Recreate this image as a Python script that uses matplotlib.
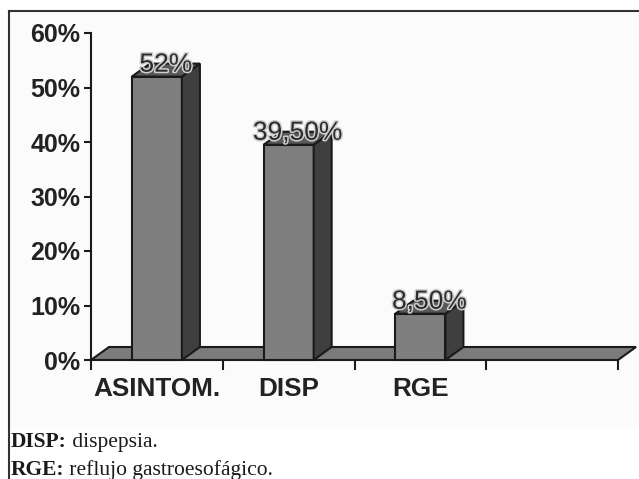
import matplotlib
matplotlib.use("Agg")
import matplotlib.pyplot as plt
import matplotlib.patheffects as pe
from matplotlib.patches import Polygon, Rectangle
from matplotlib.lines import Line2D

categorias = ["ASINTOM.", "DISP", "RGE", ""]
valores = [52.0, 39.5, 8.5]
etiquetas = ["52%", "39,50%", "8,50%"]
yticks = [0, 10, 20, 30, 40, 50, 60]
ytick_labels = ["0%", "10%", "20%", "30%", "40%", "50%", "60%"]
notas = [("DISP:", " dispepsia."), ("RGE:", " reflujo gastroesofágico.")]

W, H = 639, 479
fig = plt.figure(figsize=(W / 100, H / 100), dpi=100)
fig.patch.set_facecolor("white")

# marco y fondo del grafico
fig.patches.append(Rectangle((9 / W, 1 - 428 / H), (W - 9) / W, (428 - 11) / H,
                             transform=fig.transFigure, facecolor="#fbfbfb",
                             edgecolor="none", zorder=-5))
fig.lines.append(Line2D([9 / W, 9 / W], [0, 1 - 11 / H], transform=fig.transFigure,
                        color="#333333", lw=1.5, zorder=-4))
fig.lines.append(Line2D([9 / W, 1], [1 - 11 / H, 1 - 11 / H], transform=fig.transFigure,
                        color="#333333", lw=1.5, zorder=-4))

x0, x1, y0, y1 = 91, 618, 360, 33
ax = fig.add_axes([x0 / W, 1 - y0 / H, (x1 - x0) / W, (y0 - y1) / H])
ax.set_facecolor("none")
ax.set_xlim(0, len(categorias))
ax.set_ylim(0, 60)

# profundidad 3D en unidades de datos
px_x = (x1 - x0) / len(categorias)
px_y = (y0 - y1) / 60
dx = 18 / px_x
dy = 13 / px_y
ancho = 0.38
borde = "#1a1a1a"

# piso
n = len(categorias)
ax.add_patch(Polygon([(0, 0), (n, 0), (n + dx, dy), (dx, dy)], closed=True,
                     facecolor="#7b7b7b", edgecolor=borde, lw=1.5,
                     clip_on=False, zorder=2))

for i, v in enumerate(valores):
    xl = i + 0.5 - ancho / 2
    xr = xl + ancho
    ax.add_patch(Polygon([(xl, 0), (xr, 0), (xr, v), (xl, v)], closed=True,
                         facecolor="#7f7f7f", edgecolor=borde, lw=1.5,
                         clip_on=False, zorder=3))
    ax.add_patch(Polygon([(xr, 0), (xr + dx, dy), (xr + dx, v + dy), (xr, v)], closed=True,
                         facecolor="#3f3f3f", edgecolor=borde, lw=1.5,
                         clip_on=False, zorder=3))
    ax.add_patch(Polygon([(xl, v), (xr, v), (xr + dx, v + dy), (xl + dx, v + dy)], closed=True,
                         facecolor="#585858", edgecolor=borde, lw=1.5,
                         clip_on=False, zorder=3))
    ax.text(i + 0.5 + dx / 2, v + 0.9, etiquetas[i], ha="center", va="baseline",
            fontsize=19, family="Liberation Sans", color="#2c2c2c", zorder=5,
            path_effects=[pe.Stroke(linewidth=2.2, foreground="#cfcfcf"), pe.Normal()])

for s in ["top", "right", "bottom"]:
    ax.spines[s].set_visible(False)
ax.spines["left"].set_linewidth(1.5)
ax.spines["left"].set_color(borde)

ax.set_yticks(yticks)
ax.set_yticklabels(ytick_labels, fontsize=18, fontweight="bold",
                   family="Liberation Sans", color="#222222")
ax.tick_params(axis="y", length=5, width=1.5, color=borde, pad=2.5)

ax.set_xticks(range(n + 1))
ax.set_xticklabels([])
ax.tick_params(axis="x", which="major", length=7, width=1.5, color=borde, direction="out")
ax.set_xticks([i + 0.5 for i in range(n)], minor=True)
ax.set_xticklabels(categorias, minor=True, fontsize=18.8, fontweight="bold",
                   family="Liberation Sans", color="#222222")
ax.tick_params(axis="x", which="minor", length=0, pad=12)

# notas al pie
renderer = fig.canvas.get_renderer()
for k, (neg, resto) in enumerate(notas):
    yb = 1 - (447 + 28 * k) / H
    t = fig.text(11 / W, yb, neg, fontsize=15.5, fontweight="bold",
                 family="Liberation Serif", color="#1a1a1a", va="baseline")
    bb = t.get_window_extent(renderer)
    fig.text(bb.x1 / W, yb, resto, fontsize=15.5, family="Liberation Serif",
             color="#1a1a1a", va="baseline")

fig.savefig("out.png", dpi=100)
